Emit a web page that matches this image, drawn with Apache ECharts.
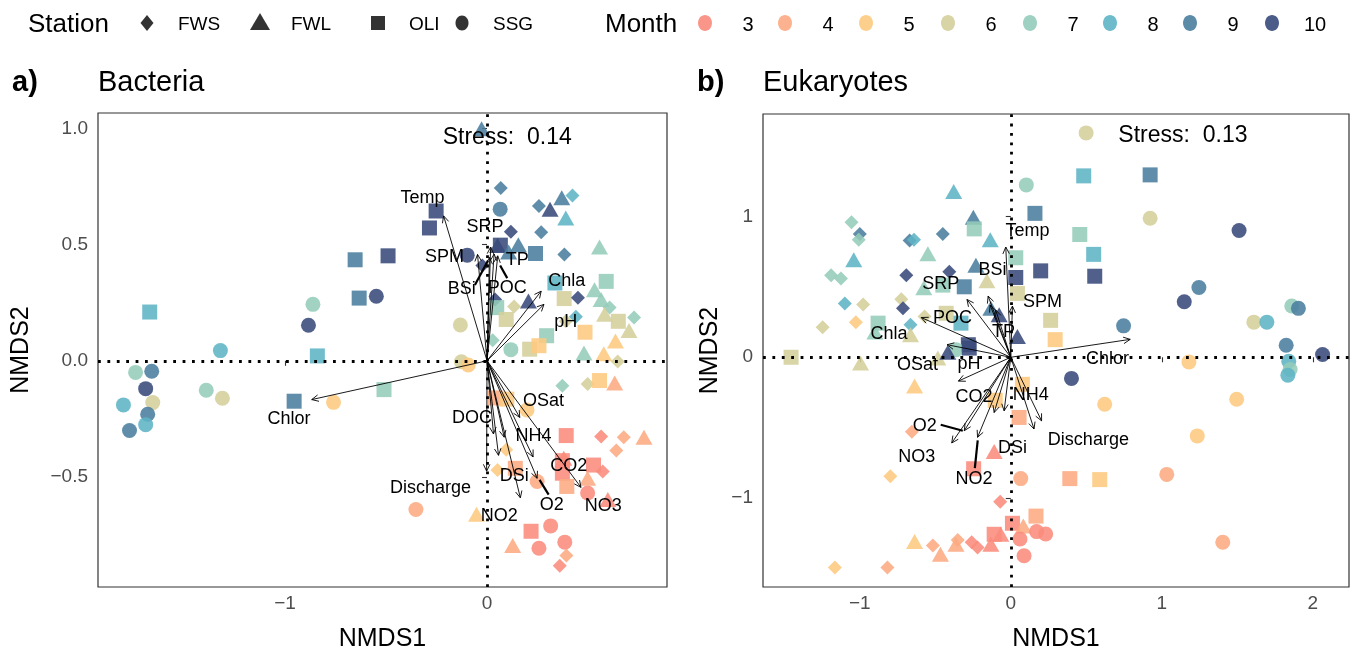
<!DOCTYPE html>
<html>
<head>
<meta charset="utf-8">
<script src="https://cdn.jsdelivr.net/npm/echarts@6/dist/echarts.min.js"></script>
<style>
  html, body { margin: 0; padding: 0; background: #fff; }
  #chart { width: 1356px; height: 657px; }
</style>
</head>
<body>
<div id="chart"></div>
<script>
// 数据：[NMDS1, NMDS2, month, station]
var stations = ['FWS', 'FWL', 'OLI', 'SSG'];
var months = [3, 4, 5, 6, 7, 8, 9, 10];

var bacteriaPoints = [
  [-1.74, -0.05, 7, 'SSG'], [-1.66, -0.045, 9, 'SSG'], [-1.69, -0.12, 10, 'SSG'], [-1.655, -0.18, 6, 'SSG'],
  [-1.80, -0.19, 8, 'SSG'], [-1.68, -0.23, 9, 'SSG'], [-1.69, -0.275, 8, 'SSG'], [-1.77, -0.30, 9, 'SSG'],
  [-1.32, 0.044, 8, 'SSG'], [-1.39, -0.127, 7, 'SSG'], [-1.31, -0.161, 6, 'SSG'],
  [-1.67, 0.21, 8, 'OLI'], [-0.84, 0.021, 8, 'OLI'], [-0.955, -0.174, 9, 'OLI'], [-0.51, -0.124, 7, 'OLI'],
  [-0.653, 0.435, 9, 'OLI'], [-0.49, 0.452, 10, 'OLI'], [-0.633, 0.27, 9, 'OLI'], [-0.252, 0.645, 10, 'OLI'],
  [-0.285, 0.572, 10, 'OLI'],
  [-0.76, -0.179, 5, 'SSG'], [-0.548, 0.278, 10, 'SSG'], [-0.862, 0.243, 7, 'SSG'], [-0.884, 0.153, 10, 'SSG'],
  [-0.098, 0.455, 10, 'SSG'], [0.065, 0.653, 9, 'SSG'], [-0.132, 0.154, 6, 'SSG'], [-0.127, -0.004, 6, 'SSG'],
  [-0.093, -0.018, 5, 'SSG'], [0.118, 0.048, 7, 'SSG'],
  [-0.027, 0.999, 9, 'FWL'],
  [0.068, 0.744, 9, 'FWS'], [0.257, 0.667, 9, 'FWS'], [0.268, 0.554, 9, 'FWS'], [0.383, 0.458, 9, 'FWS'],
  [0.37, 0.702, 9, 'FWL'], [0.423, 0.712, 8, 'FWS'], [0.312, 0.653, 10, 'FWL'], [0.39, 0.615, 8, 'FWL'],
  [0.118, 0.556, 10, 'FWS'], [0.066, 0.498, 10, 'OLI'], [0.052, 0.497, 10, 'FWL'], [0.155, 0.5, 9, 'FWL'],
  [0.107, 0.469, 9, 'FWL'], [0.24, 0.462, 9, 'OLI'], [0.557, 0.49, 7, 'FWL'], [-0.023, 0.41, 10, 'FWS'],
  [0.336, 0.335, 8, 'OLI'], [0.59, 0.342, 7, 'OLI'], [0.532, 0.306, 7, 'FWL'], [0.382, 0.268, 6, 'OLI'],
  [0.45, 0.272, 10, 'FWS'], [0.205, 0.257, 10, 'FWL'], [0.04, 0.264, 10, 'FWS'], [0.565, 0.264, 7, 'FWL'],
  [0.607, 0.229, 7, 'FWS'], [0.582, 0.2, 6, 'FWL'], [0.134, 0.234, 6, 'FWS'], [0.048, 0.229, 7, 'OLI'],
  [0.095, 0.178, 6, 'OLI'], [0.44, 0.19, 8, 'FWS'], [0.65, 0.17, 6, 'OLI'], [0.728, 0.186, 7, 'FWS'],
  [0.703, 0.13, 6, 'FWL'], [0.39, 0.17, 6, 'FWS'], [0.485, 0.123, 5, 'OLI'], [0.295, 0.108, 7, 'OLI'],
  [0.636, 0.085, 5, 'FWL'], [0.028, 0.088, 7, 'FWS'], [0.211, 0.05, 6, 'OLI'], [0.257, 0.065, 5, 'OLI'],
  [0.48, 0.034, 7, 'FWL'], [0.578, 0.03, 5, 'FWL'], [0.647, -0.003, 6, 'FWS'],
  [0.373, -0.107, 7, 'FWS'], [0.498, -0.1, 6, 'FWS'], [0.557, -0.085, 5, 'OLI'], [0.632, -0.096, 4, 'FWL'],
  [0.04, -0.16, 4, 'OLI'], [0.098, -0.165, 5, 'OLI'], [0.198, -0.212, 5, 'SSG'], [0.392, -0.322, 3, 'OLI'],
  [0.565, -0.326, 3, 'FWS'], [0.677, -0.329, 4, 'FWS'], [0.777, -0.329, 4, 'FWL'], [0.64, -0.386, 4, 'FWS'],
  [0.095, -0.383, 5, 'FWS'], [0.052, -0.47, 5, 'FWS'], [0.14, -0.463, 4, 'OLI'], [0.38, -0.42, 3, 'FWL'],
  [0.373, -0.43, 3, 'OLI'], [0.527, -0.449, 3, 'OLI'], [0.373, -0.484, 3, 'OLI'], [0.573, -0.477, 3, 'FWS'],
  [0.498, -0.506, 4, 'FWL'], [0.248, -0.52, 4, 'SSG'], [0.395, -0.541, 4, 'OLI'], [0.498, -0.569, 3, 'SSG'],
  [0.598, -0.597, 3, 'FWL'], [-0.352, -0.64, 4, 'SSG'], [-0.052, -0.661, 5, 'FWL'], [0.218, -0.734, 3, 'OLI'],
  [0.315, -0.711, 3, 'SSG'], [0.385, -0.781, 3, 'SSG'], [0.257, -0.807, 3, 'SSG'], [0.127, -0.795, 4, 'FWL'],
  [0.393, -0.838, 4, 'FWS'], [0.36, -0.883, 3, 'FWS']
];

var eukaryotePoints = [
  [0.103, 1.223, 7, 'SSG'], [0.16, 1.021, 9, 'OLI'], [-0.378, 1.176, 8, 'FWL'], [-0.248, 0.993, 9, 'FWL'],
  [-0.242, 0.911, 7, 'OLI'], [-0.136, 0.833, 8, 'FWL'], [-1.055, 0.958, 7, 'FWS'], [-1.0, 0.875, 9, 'FWS'],
  [-1.007, 0.833, 7, 'FWS'], [-0.45, 0.875, 9, 'FWS'], [-0.67, 0.829, 9, 'FWS'], [-0.641, 0.833, 8, 'FWS'],
  [-0.549, 0.735, 7, 'FWL'], [-1.04, 0.692, 8, 'FWL'], [-1.19, 0.582, 7, 'FWS'], [-1.125, 0.558, 7, 'FWS'],
  [-0.692, 0.582, 10, 'FWS'], [-0.407, 0.606, 10, 'FWS'], [-0.231, 0.653, 9, 'FWL'], [-0.158, 0.542, 6, 'FWL'],
  [-0.576, 0.493, 7, 'FWL'], [-0.45, 0.512, 7, 'OLI'], [-0.308, 0.5, 9, 'OLI'], [0.033, 0.706, 7, 'OLI'],
  [0.033, 0.566, 10, 'OLI'], [0.198, 0.613, 10, 'OLI'], [0.044, 0.453, 6, 'OLI'], [0.264, 0.262, 6, 'OLI'],
  [0.294, 0.125, 5, 'OLI'], [-1.099, 0.382, 8, 'FWS'], [-0.978, 0.375, 6, 'FWS'], [-0.725, 0.411, 6, 'FWS'],
  [-0.714, 0.347, 10, 'FWS'], [-1.026, 0.249, 5, 'FWS'], [-1.246, 0.213, 6, 'FWS'], [-0.879, 0.242, 7, 'OLI'],
  [-0.9, 0.18, 7, 'FWL'], [-0.664, 0.23, 8, 'FWS'], [-0.571, 0.289, 6, 'FWS'], [-0.428, 0.312, 6, 'OLI'],
  [-0.33, 0.242, 8, 'OLI'], [-0.664, 0.16, 6, 'FWL'], [-0.132, 0.347, 9, 'FWL'], [-0.077, 0.301, 10, 'FWL'],
  [0.044, 0.148, 10, 'FWL'], [-0.281, 0.089, 10, 'OLI'], [-0.363, 0.054, 7, 'SSG'], [-1.455, 0.0, 6, 'OLI'],
  [-0.995, -0.04, 6, 'FWL'], [-0.483, -0.005, 6, 'FWL'], [-0.417, 0.035, 10, 'FWL'], [-0.275, 0.065, 10, 'OLI'],
  [-0.637, -0.204, 5, 'FWL'], [0.077, -0.192, 5, 'OLI'], [-0.103, -0.305, 5, 'OLI'], [0.055, -0.427, 4, 'OLI'],
  [-0.655, -0.528, 4, 'FWS'], [-0.11, -0.669, 3, 'FWL'], [-0.246, -0.791, 3, 'OLI'], [-0.798, -0.845, 5, 'FWS'],
  [0.066, -0.861, 4, 'SSG'], [-0.07, -1.026, 3, 'FWS'], [0.167, -1.127, 4, 'OLI'], [0.011, -1.178, 3, 'OLI'],
  [0.083, -1.197, 4, 'FWL'], [0.171, -1.237, 3, 'SSG'], [0.231, -1.254, 3, 'SSG'], [0.061, -1.289, 3, 'SSG'],
  [0.088, -1.408, 3, 'SSG'], [-0.11, -1.256, 3, 'OLI'], [-0.066, -1.256, 3, 'FWL'], [-0.132, -1.326, 3, 'FWL'],
  [-0.259, -1.312, 3, 'FWS'], [-0.22, -1.35, 3, 'FWS'], [-0.363, -1.326, 4, 'FWL'], [-0.351, -1.296, 4, 'FWS'],
  [-0.466, -1.397, 4, 'FWL'], [-0.516, -1.336, 4, 'FWS'], [-0.637, -1.308, 5, 'FWL'], [-1.165, -1.491, 5, 'FWS'],
  [-0.817, -1.491, 4, 'FWS'],
  [0.499, 1.592, 6, 'SSG'], [0.483, 1.287, 8, 'OLI'], [0.923, 1.294, 9, 'OLI'], [0.923, 0.986, 6, 'SSG'],
  [1.512, 0.899, 10, 'SSG'], [0.457, 0.871, 7, 'OLI'], [0.549, 0.73, 8, 'OLI'], [0.556, 0.575, 10, 'OLI'],
  [1.246, 0.495, 9, 'SSG'], [1.149, 0.394, 10, 'SSG'], [1.861, 0.364, 7, 'SSG'], [1.905, 0.347, 9, 'SSG'],
  [1.61, 0.249, 6, 'SSG'], [1.696, 0.249, 8, 'SSG'], [0.747, 0.223, 9, 'SSG'], [1.824, 0.085, 9, 'SSG'],
  [2.065, 0.02, 10, 'SSG'], [1.841, -0.028, 8, 'SSG'], [1.85, -0.087, 7, 'SSG'], [1.835, -0.127, 8, 'SSG'],
  [1.18, -0.033, 5, 'SSG'], [0.402, -0.15, 10, 'SSG'], [0.622, -0.333, 5, 'SSG'], [1.496, -0.298, 5, 'SSG'],
  [1.235, -0.558, 5, 'SSG'], [1.033, -0.831, 4, 'SSG'], [0.391, -0.861, 4, 'OLI'], [0.589, -0.868, 5, 'OLI'],
  [1.404, -1.312, 4, 'SSG']
];

// 环境因子箭头
var bacteriaVarNames = ['Temp', 'SRP', 'SPM', 'BSi', 'POC', 'TP', 'Chla', 'pH', 'Chlor', 'OSat', 'DOC', 'NH4',
  'CO2', 'DSi', 'O2', 'NO3', 'NO2', 'Discharge'];
var bacteriaArrows = [[-0.215, 0.624], [0.018, 0.49], [-0.047, 0.458], [0.012, 0.445], [0.035, 0.46], [0.053, 0.452],
  [0.268, 0.30], [0.282, 0.243], [-0.868, -0.167], [0.162, -0.244], [0.032, -0.315], [0.228, -0.414],
  [0.085, -0.329], [0.165, -0.59], [0.248, -0.506], [0.465, -0.545], [0.057, -0.407], [-0.002, -0.475]];
var bacteriaLabels = [[-0.32, 0.70], [-0.01, 0.578], [-0.21, 0.447], [-0.125, 0.308], [0.1, 0.312], [0.15, 0.433],
  [0.395, 0.345], [0.39, 0.165], [-0.98, -0.25], [0.28, -0.174], [-0.075, -0.246], [0.23, -0.326],
  [0.405, -0.455], [0.135, -0.496], [0.32, -0.623], [0.575, -0.627], [0.06, -0.67], [-0.28, -0.547]];
var bacteriaLeaders = [[-0.06, 0.326, 0.005, 0.432], [0.1, 0.356, 0.065, 0.41], [0.26, -0.513, 0.305, -0.576]];

var eukaryoteVarNames = ['Temp', 'SPM', 'BSi', 'SRP', 'TP', 'POC', 'Chla', 'pH', 'Chlor', 'OSat', 'CO2', 'NH4',
  'O2', 'NO3', 'DSi', 'NO2', 'Discharge'];
var eukaryoteArrows = [[-0.033, 0.782], [0.011, 0.363], [-0.15, 0.434], [-0.29, 0.41], [-0.137, 0.37], [-0.593, 0.282],
  [-0.422, 0.089], [-0.1, 0.336], [0.791, 0.127], [-0.347, -0.169], [-0.11, -0.392], [0.204, -0.451],
  [-0.308, -0.521], [-0.391, -0.608], [-0.044, -0.38], [-0.22, -0.568], [0.154, -0.509]];
var eukaryoteLabels = [[0.11, 0.896], [0.21, 0.393], [-0.121, 0.62], [-0.464, 0.52], [-0.048, 0.182], [-0.386, 0.276],
  [-0.806, 0.164], [-0.276, -0.051], [0.64, -0.012], [-0.618, -0.058], [-0.243, -0.279], [0.132, -0.27],
  [-0.57, -0.486], [-0.623, -0.707], [0.011, -0.644], [-0.243, -0.866], [0.514, -0.59]];
var eukaryoteLeaders = [[-0.464, -0.479, -0.318, -0.521], [-0.219, -0.59, -0.238, -0.786]];

var stressText = ['Stress:  0.14', 'Stress:  0.13'];
var stressPos = [[0.1, 0.96], [1.14, 1.57]];

var monthColors = {
  3: '#F98B7C', 4: '#FCAA82', 5: '#FDCA80', 6: '#D4CF9B',
  7: '#94CCBA', 8: '#5EB4C5', 9: '#4A7E9E', 10: '#394A7B'
};
var shapeOf = { FWS: 'diamond', FWL: 'triangle', OLI: 'rect', SSG: 'circle' };
var sizeOf = { FWS: [14, 14], FWL: [17, 15], OLI: [15, 15], SSG: [15, 15] };

var FONT = '"Liberation Sans", Arial, Helvetica, sans-serif';
var tickColor = '#333';
var labelGray = '#4D4D4D';

function fmtMinus (v, digits) {
  var s = digits ? Math.abs(v).toFixed(digits) : String(Math.abs(v));
  return v < 0 ? '\u2212' + s : s;
}

function pointSeries (points, idx) {
  return {
    type: 'scatter', xAxisIndex: idx, yAxisIndex: idx, z: 2, silent: true,
    data: points.map(function (p) {
      return {
        value: [p[0], p[1]],
        symbol: shapeOf[p[3]],
        symbolSize: sizeOf[p[3]],
        itemStyle: { color: monthColors[p[2]], opacity: 0.88 }
      };
    })
  };
}

function zeroLines (idx) {
  return {
    type: 'line', xAxisIndex: idx, yAxisIndex: idx, data: [], z: 3, silent: true,
    markLine: {
      silent: true, symbol: 'none', animation: false,
      label: { show: false },
      lineStyle: { type: [2.8, 6.6], width: 2.8, color: '#000', cap: 'butt' },
      data: [{ xAxis: 0 }, { yAxis: 0 }]
    }
  };
}

function arrowSeries (arrows, idx) {
  return {
    type: 'custom', xAxisIndex: idx, yAxisIndex: idx, z: 4, silent: true,
    encode: { x: 0, y: 1 },
    data: arrows,
    renderItem: function (params, api) {
      var o = api.coord([0, 0]);
      var p = api.coord([api.value(0), api.value(1)]);
      var ang = Math.atan2(p[1] - o[1], p[0] - o[0]);
      var L = 7.5, a = Math.PI / 7;
      return {
        type: 'group',
        children: [{
          type: 'line',
          shape: { x1: o[0], y1: o[1], x2: p[0], y2: p[1] },
          style: { stroke: '#000', lineWidth: 0.9 }
        }, {
          type: 'polyline',
          shape: {
            points: [
              [p[0] - L * Math.cos(ang - a), p[1] - L * Math.sin(ang - a)],
              [p[0], p[1]],
              [p[0] - L * Math.cos(ang + a), p[1] - L * Math.sin(ang + a)]
            ]
          },
          style: { stroke: '#000', fill: null, lineWidth: 0.9 }
        }]
      };
    }
  };
}

function leaderSeries (segs, idx) {
  return {
    type: 'custom', xAxisIndex: idx, yAxisIndex: idx, z: 4, silent: true,
    encode: { x: [0, 2], y: [1, 3] },
    data: segs,
    renderItem: function (params, api) {
      var a = api.coord([api.value(0), api.value(1)]);
      var b = api.coord([api.value(2), api.value(3)]);
      return {
        type: 'line',
        shape: { x1: a[0], y1: a[1], x2: b[0], y2: b[1] },
        style: { stroke: '#000', lineWidth: 2.2 }
      };
    }
  };
}

function textSeries (positions, names, idx, size) {
  return {
    type: 'custom', xAxisIndex: idx, yAxisIndex: idx, z: 5, silent: true,
    encode: { x: 0, y: 1 },
    data: positions,
    renderItem: function (params, api) {
      var c = api.coord([api.value(0), api.value(1)]);
      return {
        type: 'text', x: c[0], y: c[1],
        style: {
          text: names[params.dataIndex], font: size + 'px ' + FONT, fill: '#000',
          align: 'center', verticalAlign: 'middle'
        }
      };
    }
  };
}

function makeXAxis (idx, min, max, ticks, digits) {
  return {
    type: 'value', gridIndex: idx, min: min, max: max,
    name: 'NMDS1', nameLocation: 'middle', nameGap: 40,
    nameTextStyle: { fontSize: 25, color: '#000', fontFamily: FONT },
    axisLine: { show: false },
    axisTick: { show: true, customValues: ticks, length: 5, lineStyle: { color: tickColor, width: 1.1 } },
    axisLabel: {
      customValues: ticks, fontSize: 19, color: labelGray, fontFamily: FONT, margin: 7,
      formatter: function (v) { return fmtMinus(v, digits); }
    },
    splitLine: { show: false }
  };
}

function makeYAxis (idx, min, max, ticks, digits, gap) {
  return {
    type: 'value', gridIndex: idx, min: min, max: max,
    name: 'NMDS2', nameLocation: 'middle', nameGap: gap, nameRotate: 90,
    nameTextStyle: { fontSize: 25, color: '#000', fontFamily: FONT },
    axisLine: { show: false },
    axisTick: { show: true, customValues: ticks, length: 5, lineStyle: { color: tickColor, width: 1.1 } },
    axisLabel: {
      customValues: ticks, fontSize: 19, color: labelGray, fontFamily: FONT, margin: 10,
      formatter: function (v) { return fmtMinus(v, digits); }
    },
    splitLine: { show: false }
  };
}

// 图例（Station / Month）
var stationIconX = [147, 260, 378, 462];
var monthIconX = [705, 785, 866, 948, 1030, 1110, 1190, 1272];
var legendY = 23;
var textY = 25;
var graphics = [
  { type: 'text', x: 28, y: textY, style: { text: 'Station', font: '26px ' + FONT, fill: '#000', verticalAlign: 'middle' } },
  { type: 'text', x: 605, y: textY, style: { text: 'Month', font: '26px ' + FONT, fill: '#000', verticalAlign: 'middle' } },
  { type: 'text', x: 12, y: 83, style: { text: 'a)', font: 'bold 29px ' + FONT, fill: '#000', verticalAlign: 'middle' } },
  { type: 'text', x: 98, y: 83, style: { text: 'Bacteria', font: '29px ' + FONT, fill: '#000', verticalAlign: 'middle' } },
  { type: 'text', x: 697, y: 83, style: { text: 'b)', font: 'bold 29px ' + FONT, fill: '#000', verticalAlign: 'middle' } },
  { type: 'text', x: 763, y: 83, style: { text: 'Eukaryotes', font: '29px ' + FONT, fill: '#000', verticalAlign: 'middle' } }
];
stations.forEach(function (s, i) {
  var cx = stationIconX[i], cy = legendY, icon;
  if (shapeOf[s] === 'diamond') {
    icon = { type: 'polygon', shape: { points: [[cx, cy - 8], [cx + 6.5, cy], [cx, cy + 8], [cx - 6.5, cy]] } };
  } else if (shapeOf[s] === 'triangle') {
    icon = { type: 'polygon', shape: { points: [[cx, cy - 10], [cx + 10, cy + 7], [cx - 10, cy + 7]] } };
  } else if (shapeOf[s] === 'rect') {
    icon = { type: 'rect', shape: { x: cx - 7, y: cy - 7, width: 14, height: 14 } };
  } else {
    icon = { type: 'ellipse', shape: { cx: cx, cy: cy, rx: 6.5, ry: 7.5 } };
  }
  icon.style = { fill: '#333' };
  graphics.push(icon);
  graphics.push({ type: 'text', x: cx + 31, y: textY, style: { text: s, font: '19px ' + FONT, fill: '#000', verticalAlign: 'middle' } });
});
months.forEach(function (m, i) {
  var cx = monthIconX[i];
  graphics.push({ type: 'ellipse', shape: { cx: cx, cy: legendY, rx: 7, ry: 8 }, style: { fill: monthColors[m], opacity: 0.9 } });
  graphics.push({ type: 'text', x: cx + 43, y: textY, style: { text: String(m), font: '20px ' + FONT, fill: '#000', align: 'center', verticalAlign: 'middle' } });
});

var chart = echarts.init(document.getElementById('chart'));
var option = {
  animation: false,
  backgroundColor: '#fff',
  textStyle: { fontFamily: FONT },
  grid: [
    { left: 98, top: 113, width: 569, height: 479, show: true, borderColor: '#333', borderWidth: 1.2, backgroundColor: '#fff' },
    { left: 763, top: 114, width: 586, height: 479, show: true, borderColor: '#333', borderWidth: 1.2, backgroundColor: '#fff' }
  ],
  xAxis: [
    makeXAxis(0, -1.926, 0.891, [-1, 0], 0),
    makeXAxis(1, -1.641, 2.24, [-1, 0, 1, 2], 0)
  ],
  yAxis: [
    makeYAxis(0, -0.974, 1.067, [-0.5, 0, 0.5, 1], 1, 64),
    makeYAxis(1, -1.630, 1.726, [-1, 0, 1], 0, 40)
  ],
  graphic: graphics,
  series: [
    pointSeries(bacteriaPoints, 0),
    zeroLines(0),
    arrowSeries(bacteriaArrows, 0),
    leaderSeries(bacteriaLeaders, 0),
    textSeries(bacteriaLabels, bacteriaVarNames, 0, 18),
    textSeries([stressPos[0]], [stressText[0]], 0, 23),
    pointSeries(eukaryotePoints, 1),
    zeroLines(1),
    arrowSeries(eukaryoteArrows, 1),
    leaderSeries(eukaryoteLeaders, 1),
    textSeries(eukaryoteLabels, eukaryoteVarNames, 1, 18),
    textSeries([stressPos[1]], [stressText[1]], 1, 23)
  ]
};
chart.setOption(option, true);
</script>
</body>
</html>
